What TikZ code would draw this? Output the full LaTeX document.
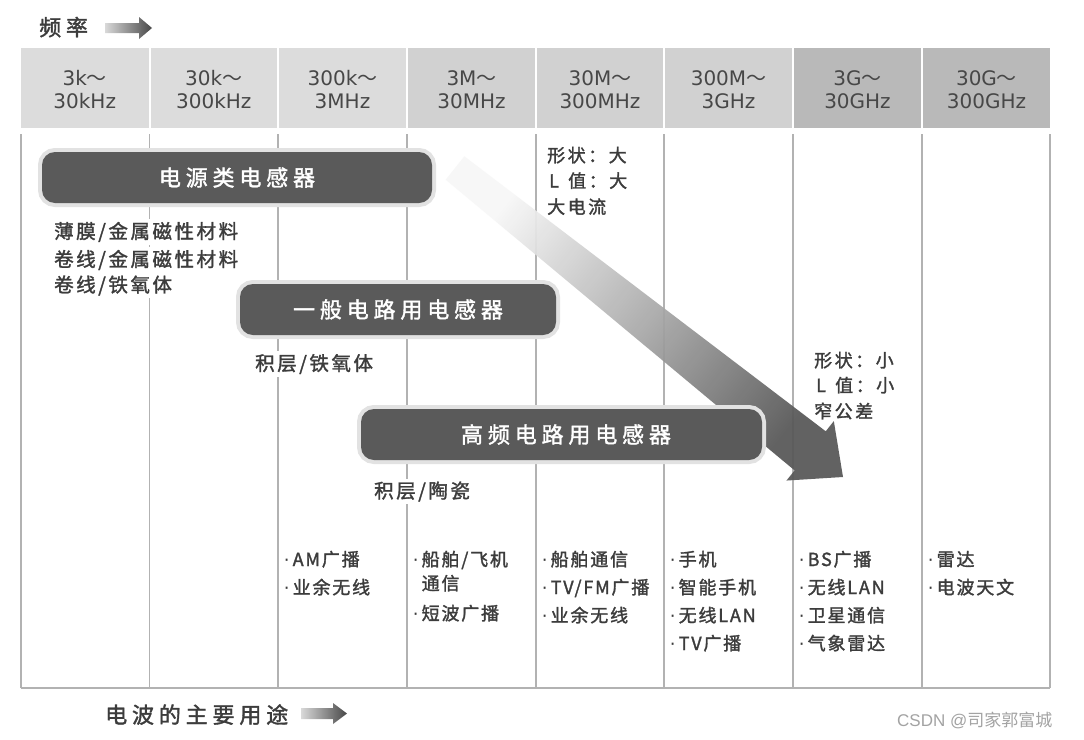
\documentclass[tikz,border=0pt]{standalone}
\usepackage{fontspec}
\newfontfamily\cjk{Noto Sans CJK SC}[FakeBold=1.6]
\newfontfamily\cjkw{Noto Sans CJK SC}
\newfontfamily\dv{DejaVu Sans}
\newfontfamily\lib{Liberation Sans}
\definecolor{txt}{HTML}{3C3C3C}
\definecolor{hdrtxt}{HTML}{474747}
\definecolor{hdrA}{HTML}{DCDCDC}
\definecolor{hdrB}{HTML}{D1D1D1}
\definecolor{hdrC}{HTML}{B9B9B9}
\definecolor{gridc}{HTML}{B2B2B2}
\definecolor{barfill}{HTML}{5A5A5A}
\definecolor{halo}{HTML}{E2E2E2}
\definecolor{wmc}{HTML}{A3A3A3}
\newcommand\wave{{\cjkw ～}}
\newcommand\bul{\makebox[12pt]{\dv ·}}
\begin{document}
\begin{tikzpicture}[x=1pt,y=-1pt,
 cell/.style={draw=none, inner sep=0pt, minimum height=80pt, anchor=north west},
 hz/.style={anchor=base, inner sep=0pt, text=hdrtxt, font=\dv\fontsize{20}{24}\selectfont},
 gridline/.style={draw=gridc, line width=1.6pt},
 bar/.style={rounded corners=13pt, fill=barfill, text=white, inner sep=0pt, minimum height=51pt,
   font=\cjk\fontsize{22}{26}\selectfont\addfontfeature{LetterSpace=22},
   preaction={draw=halo, line width=8pt}},
 body/.style={anchor=base west, inner sep=3pt, fill=white, text=txt,
   font=\cjk\fontsize{19.5}{24}\selectfont\addfontfeature{LetterSpace=13}},
 note/.style={anchor=base west, inner sep=0pt, text=txt,
   font=\cjk\fontsize{18}{22}\selectfont\addfontfeature{LetterSpace=14}},
 usage/.style={anchor=base west, inner sep=0pt, text=txt,
   font=\cjk\fontsize{18}{22}\selectfont\addfontfeature{LetterSpace=10}},
 axislabel/.style={anchor=base west, inner sep=0pt, text=txt,
   font=\cjk\fontsize{22}{26}\selectfont\addfontfeature{LetterSpace=22}},
 smallarrow/.style={left color=black!15, right color=black!72, draw=none},
]
\useasboundingbox (0,0) rectangle (1084,739);
\fill[white] (0,0) rectangle (1084,739);

% header cells
\node[cell, fill=hdrA, minimum width=127.5pt] (h1) at (21,48) {};
\node[cell, fill=hdrA, minimum width=126.5pt] (h2) at (150.5,48) {};
\node[cell, fill=hdrA, minimum width=127pt] (h3) at (279,48) {};
\node[cell, fill=hdrB, minimum width=127pt] (h4) at (408,48) {};
\node[cell, fill=hdrB, minimum width=126pt] (h5) at (537,48) {};
\node[cell, fill=hdrB, minimum width=127pt] (h6) at (665,48) {};
\node[cell, fill=hdrC, minimum width=127pt] (h7) at (794,48) {};
\node[cell, fill=hdrC, minimum width=127pt] (h8) at (923,48) {};

\node[hz] (t1a) at (84.75,85) {3k\wave};
\node[hz] (t1b) at (84.75,108) {30kHz};
\node[hz] (t2a) at (213.75,85) {30k\wave};
\node[hz] (t2b) at (213.75,108) {300kHz};
\node[hz] (t3a) at (342.5,85) {300k\wave};
\node[hz] (t3b) at (342.5,108) {3MHz};
\node[hz] (t4a) at (471.5,85) {3M\wave};
\node[hz] (t4b) at (471.5,108) {30MHz};
\node[hz] (t5a) at (600,85) {30M\wave};
\node[hz] (t5b) at (600,108) {300MHz};
\node[hz] (t6a) at (728.5,85) {300M\wave};
\node[hz] (t6b) at (728.5,108) {3GHz};
\node[hz] (t7a) at (857.5,85) {3G\wave};
\node[hz] (t7b) at (857.5,108) {30GHz};
\node[hz] (t8a) at (986.5,85) {30G\wave};
\node[hz] (t8b) at (986.5,108) {300GHz};

% grid
\foreach \gx in {21,149.5,278,407,536,664,793,922,1050}
  \draw[gridline] (\gx,134) -- (\gx,688);
\draw[gridline] (21,688) -- (1050,688);

% big diagonal arrow
\coordinate (ta) at (464.35,156.27);
\coordinate (tb) at (445.65,179.73);
\coordinate (sa) at (825.73,431.27);
\coordinate (wa) at (833.82,421.11);
\coordinate (tip) at (843,477);
\coordinate (wb) at (786.48,480.55);
\coordinate (sb) at (794.57,470.39);
\shade[left color=black!3, right color=black!66, middle color=black!33, shading angle=51.5, opacity=0.93]
  (ta) -- (sa) -- (wa) -- (tip) -- (wb) -- (sb) -- (tb) -- cycle;

% bars
\node[bar, minimum width=390pt] (b1) at (237,177.5) {电源类电感器};
\node[bar, minimum width=316pt] (b2) at (398,309.5) {一般电路用电感器};
\node[bar, minimum width=401pt] (b3) at (561.5,434.5) {\hspace*{9pt}高频电路用电感器};

% materials
\node[body] (m1) at (51,238.5) {薄膜/金属磁性材料};
\node[body] (m2) at (51,266.5) {卷线/金属磁性材料};
\node[body] (m3) at (51,292) {卷线/铁氧体};
\node[body] (m4) at (252,370.5) {积层/铁氧体};
\node[body] (m5) at (371,498) {积层/陶瓷};

% notes
\node[note] (n1) at (547,162) {形状：大};
\node[note] (n2) at (547,187.5) {\makebox[21pt][l]{\hspace{2pt}L}值：大};
\node[note] (n3) at (547,213.5) {大电流};
\node[note] (n4) at (814,367) {形状：小};
\node[note] (n5) at (814,392) {\makebox[21pt][l]{\hspace{2pt}L}值：小};
\node[note] (n6) at (814,418) {窄公差};

% usages
\node[usage] (u1) at (280.5,566) {\bul AM广播};
\node[usage] (u2) at (280.5,594) {\bul 业余无线};
\node[usage] (u3) at (409.5,566) {\bul 船舶/飞机};
\node[usage] (u4) at (421.5,590) {通信};
\node[usage] (u5) at (409.5,620) {\bul 短波广播};
\node[usage] (u6) at (538.5,566) {\bul 船舶通信};
\node[usage] (u7) at (538.5,594) {\bul TV/FM广播};
\node[usage] (u8) at (538.5,622) {\bul 业余无线};
\node[usage] (u9) at (666.5,566) {\bul 手机};
\node[usage] (u10) at (666.5,594) {\bul 智能手机};
\node[usage] (u11) at (666.5,622) {\bul 无线LAN};
\node[usage] (u12) at (666.5,650) {\bul TV广播};
\node[usage] (u13) at (795.5,566) {\bul BS广播};
\node[usage] (u14) at (795.5,594) {\bul 无线LAN};
\node[usage] (u15) at (795.5,622) {\bul 卫星通信};
\node[usage] (u16) at (795.5,650) {\bul 气象雷达};
\node[usage] (u17) at (924.5,566) {\bul 雷达};
\node[usage] (u18) at (924.5,594) {\bul 电波天文};

% axis labels and small arrows
\node[axislabel] (freq) at (39,35.5) {频率};
\shade[smallarrow] (105,23) -- (139,23) -- (139,17) -- (152,28) -- (139,39) -- (139,33) -- (105,33) -- cycle;
\node[axislabel] (use) at (105,723) {电波的主要用途};
\shade[smallarrow] (301,708) -- (333,708) -- (333,703) -- (347,713.5) -- (333,724) -- (333,719) -- (301,719) -- cycle;

% watermark
\node[anchor=base west, inner sep=0pt, text=wmc, font=\lib\fontsize{17}{20}\selectfont] (wm) at (897,726) {CSDN @{\cjkw 司家郭富城}};
\end{tikzpicture}
\end{document}
